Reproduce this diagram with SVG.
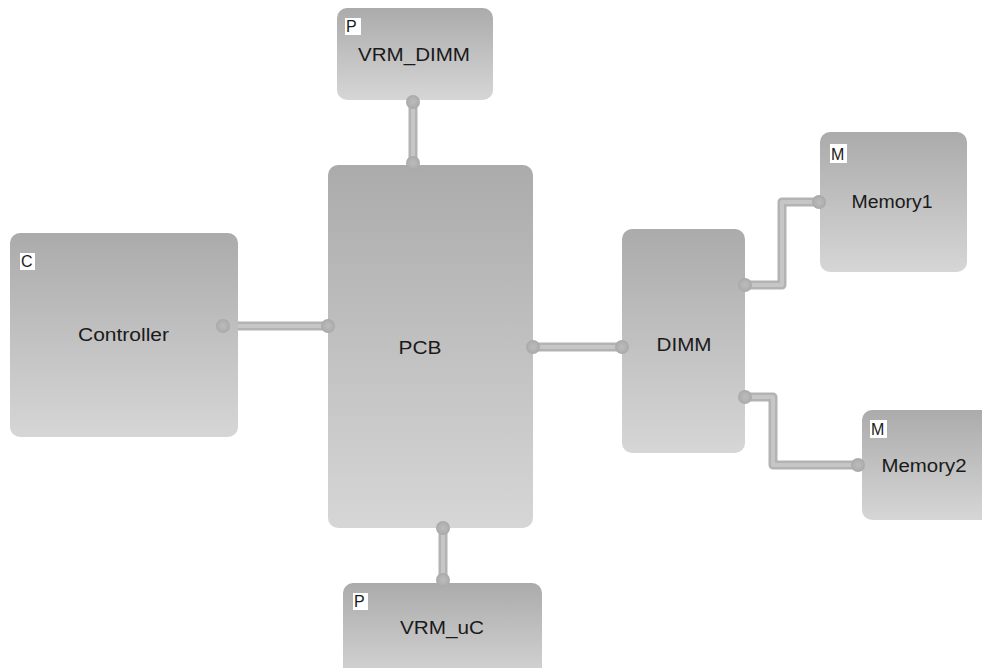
<svg xmlns="http://www.w3.org/2000/svg" width="982" height="668" viewBox="0 0 982 668">
<defs>
<linearGradient id="g" x1="0" y1="0" x2="0" y2="1">
<stop offset="0" stop-color="#ababab"/>
<stop offset="1" stop-color="#d6d6d6"/>
</linearGradient>
<radialGradient id="dot" cx="0.5" cy="0.5" r="0.5">
<stop offset="0" stop-color="#bcbcbc"/>
<stop offset="0.7" stop-color="#b0b0b0"/>
<stop offset="1" stop-color="#a8a8a8"/>
</radialGradient>
<filter id="soft" x="-5%" y="-5%" width="110%" height="110%">
<feGaussianBlur stdDeviation="0.6"/>
</filter>
</defs>
<style>
.node{fill:url(#g);}
.lbl{font-family:"Liberation Sans",Arial,sans-serif;font-size:18px;fill:#1a1a1a;text-anchor:middle;}
.tag{font-family:"Liberation Sans",Arial,sans-serif;font-size:16px;fill:#1a1a1a;}
.tagbg{fill:#ffffff;}
.wo{fill:none;stroke:#b3b3b3;stroke-width:9;stroke-linejoin:round;}
.wi{fill:none;stroke:#c6c6c6;stroke-width:4;stroke-linejoin:round;}
.pt{fill:url(#dot);}
</style>
<g id="connectors">
<path class="wo" d="M413,101 V164"/><path class="wi" d="M413,101 V164"/>
<path class="wo" d="M223,326 H328"/><path class="wi" d="M223,326 H328"/>
<path class="wo" d="M533,347 H622"/><path class="wi" d="M533,347 H622"/>
<path class="wo" d="M745,285 H782 V202 H819"/><path class="wi" d="M745,285 H782 V202 H819"/>
<path class="wo" d="M745,397 H773 V465 H858"/><path class="wi" d="M745,397 H773 V465 H858"/>
<path class="wo" d="M443,528 V580"/><path class="wi" d="M443,528 V580"/>
</g>
<g id="VRM_DIMM">
<rect class="node" x="337" y="8" width="156" height="92" rx="10" filter="url(#soft)"/>
<rect class="tagbg" x="345" y="18" width="16" height="17"/>
<text class="tag" x="346" y="32">P</text>
<text class="lbl" x="414" y="61" textLength="112" lengthAdjust="spacingAndGlyphs">VRM_DIMM</text>
</g>
<g id="PCB">
<rect class="node" x="328" y="165" width="205" height="363" rx="10" filter="url(#soft)"/>
<text class="lbl" x="420" y="354" textLength="43" lengthAdjust="spacingAndGlyphs">PCB</text>
</g>
<g id="Controller">
<rect class="node" x="10" y="233" width="228" height="204" rx="10" filter="url(#soft)"/>
<rect class="tagbg" x="20" y="253" width="15" height="17"/>
<text class="tag" x="21" y="267">C</text>
<text class="lbl" x="123.5" y="341" textLength="91" lengthAdjust="spacingAndGlyphs">Controller</text>
</g>
<g id="DIMM">
<rect class="node" x="622" y="229" width="123" height="224" rx="10" filter="url(#soft)"/>
<text class="lbl" x="684" y="351" textLength="55" lengthAdjust="spacingAndGlyphs">DIMM</text>
</g>
<g id="Memory1">
<rect class="node" x="820" y="132" width="147" height="140" rx="10" filter="url(#soft)"/>
<rect class="tagbg" x="830" y="144" width="17" height="19"/>
<text class="tag" x="831" y="160">M</text>
<text class="lbl" x="892" y="208" textLength="81" lengthAdjust="spacingAndGlyphs">Memory1</text>
</g>
<g id="Memory2">
<rect class="node" x="862" y="410" width="130" height="110" rx="10" filter="url(#soft)"/>
<rect class="tagbg" x="870" y="420" width="17" height="18"/>
<text class="tag" x="871" y="435">M</text>
<text class="lbl" x="924" y="472" textLength="85" lengthAdjust="spacingAndGlyphs">Memory2</text>
</g>
<g id="VRM_uC">
<rect class="node" x="343" y="583" width="199" height="100" rx="10" filter="url(#soft)"/>
<rect class="tagbg" x="353" y="593" width="15" height="17"/>
<text class="tag" x="354" y="607">P</text>
<text class="lbl" x="442" y="634" textLength="84" lengthAdjust="spacingAndGlyphs">VRM_uC</text>
</g>
<g id="ports">
<circle class="pt" cx="413" cy="102" r="7"/>
<circle class="pt" cx="413" cy="163" r="7"/>
<circle class="pt" cx="223" cy="326" r="7"/>
<circle class="pt" cx="328" cy="326" r="7"/>
<circle class="pt" cx="533" cy="347" r="7"/>
<circle class="pt" cx="622" cy="347" r="7"/>
<circle class="pt" cx="745" cy="285" r="7"/>
<circle class="pt" cx="819" cy="202" r="7"/>
<circle class="pt" cx="745" cy="397" r="7"/>
<circle class="pt" cx="858" cy="465" r="7"/>
<circle class="pt" cx="443" cy="528" r="7"/>
<circle class="pt" cx="443" cy="580" r="7"/>
</g>
</svg>
